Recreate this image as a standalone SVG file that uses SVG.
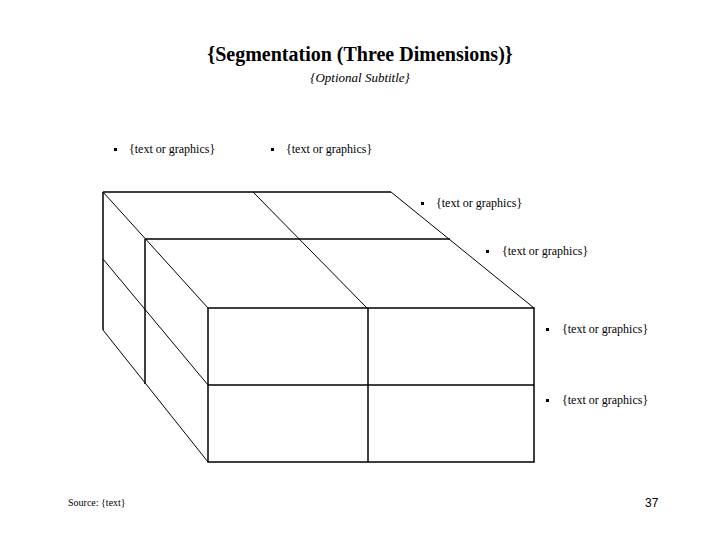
<svg xmlns="http://www.w3.org/2000/svg" width="720" height="540" viewBox="0 0 720 540">
<style>
.edge{stroke:#000;stroke-width:1.5;fill:none}
.diag{stroke:#000;stroke-width:1;fill:none}
.title{font-family:"Liberation Serif","Times New Roman",serif;font-size:20px;font-weight:bold;fill:#000}
.sub{font-family:"Liberation Serif","Times New Roman",serif;font-size:13px;font-style:italic;fill:#000}
.bl{font-family:"Liberation Serif","Times New Roman",serif;font-size:12px;fill:#000}
.src{font-family:"Liberation Serif","Times New Roman",serif;font-size:10px;fill:#000}
.pg{font-family:"Liberation Sans",Arial,sans-serif;font-size:12px;fill:#000}
</style>
<rect width="720" height="540" fill="#fff"/>
<g id="title">
<text class="title" x="360" y="61" text-anchor="middle">{Segmentation (Three Dimensions)}</text>
<text class="sub" x="360" y="82" text-anchor="middle">{Optional Subtitle}</text>
</g>
<g id="cube">
<g id="top-face">
<line class="edge" x1="103" y1="192" x2="391" y2="192"/>
<line class="edge" x1="145" y1="239" x2="450" y2="239"/>
<line class="diag" x1="103" y1="192" x2="208" y2="308"/>
<line class="diag" x1="253" y1="192" x2="367" y2="308"/>
<line class="diag" x1="391" y1="192" x2="534" y2="308"/>
</g>
<g id="left-face">
<line class="edge" x1="103" y1="192" x2="103" y2="330"/>
<line class="edge" x1="145" y1="239" x2="145" y2="384"/>
<line class="diag" x1="103" y1="259" x2="208" y2="385"/>
<line class="diag" x1="103" y1="330" x2="208" y2="462"/>
</g>
<g id="front-face">
<rect class="edge" x="208" y="308" width="326" height="154"/>
<line class="edge" x1="208" y1="385" x2="534" y2="385"/>
<line class="edge" x1="368" y1="308" x2="368" y2="462"/>
</g>
</g>
<g id="bullets">
<g id="b1"><rect x="114" y="148" width="3" height="3"/><text class="bl" x="129" y="153">{text or graphics}</text></g>
<g id="b2"><rect x="271" y="148" width="3" height="3"/><text class="bl" x="286" y="153">{text or graphics}</text></g>
<g id="b3"><rect x="421" y="202" width="3" height="3"/><text class="bl" x="436" y="207">{text or graphics}</text></g>
<g id="b4"><rect x="486" y="250" width="3" height="3"/><text class="bl" x="502" y="255">{text or graphics}</text></g>
<g id="b5"><rect x="546" y="328" width="3" height="3"/><text class="bl" x="562" y="333">{text or graphics}</text></g>
<g id="b6"><rect x="546" y="399" width="3" height="3"/><text class="bl" x="562" y="404">{text or graphics}</text></g>
</g>
<g id="footer">
<text class="src" x="68" y="506">Source: {text}</text>
<text class="pg" x="645" y="507">37</text>
</g>
</svg>
